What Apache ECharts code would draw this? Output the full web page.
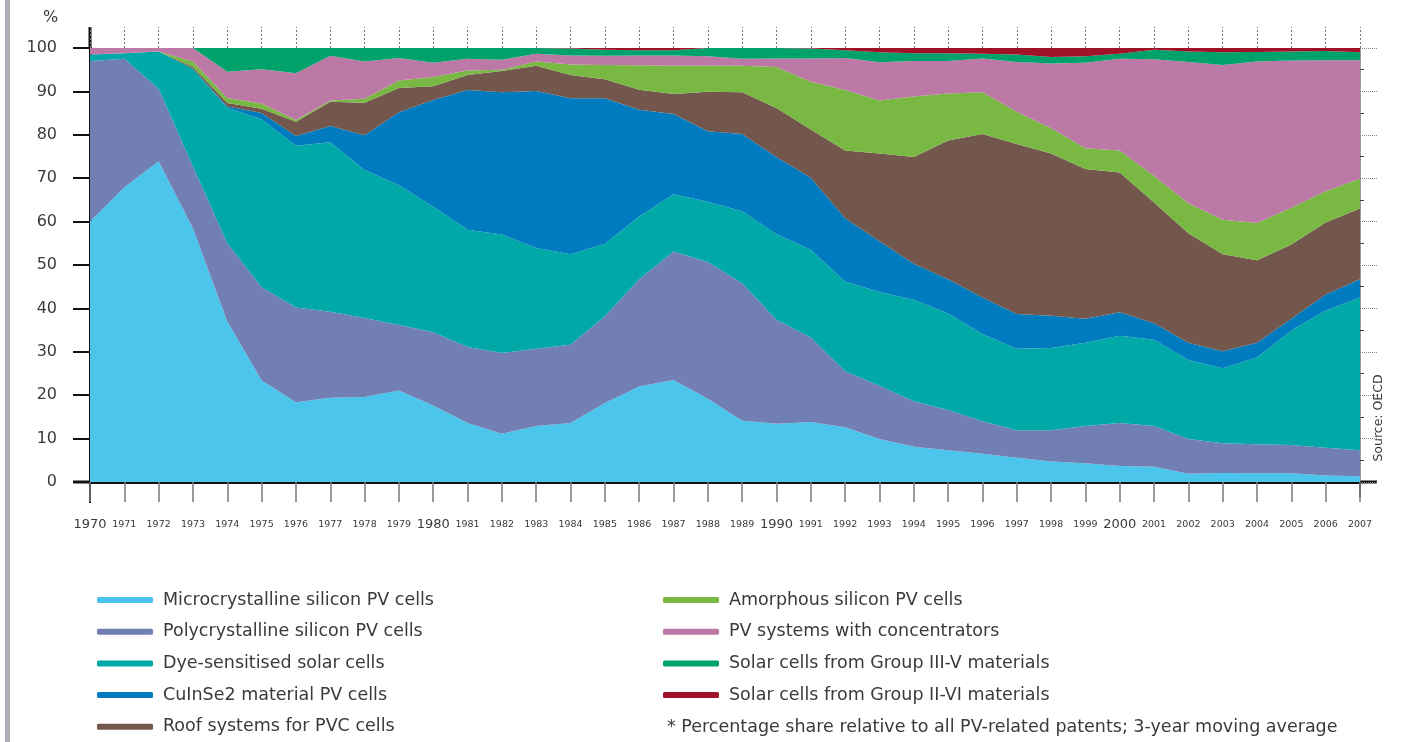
<!DOCTYPE html>
<html>
<head>
<meta charset="utf-8">
<script src="https://cdn.jsdelivr.net/npm/echarts@6/dist/echarts.min.js"></script>
<style>
html, body { margin: 0; padding: 0; background: #fff; }
#chart { width: 1405px; height: 742px; }
</style>
</head>
<body>
<div id="chart"></div>
<script>
// years 1970..2007
const years = ['1970','1971','1972','1973','1974','1975','1976','1977','1978','1979',
  '1980','1981','1982','1983','1984','1985','1986','1987','1988','1989',
  '1990','1991','1992','1993','1994','1995','1996','1997','1998','1999',
  '2000','2001','2002','2003','2004','2005','2006','2007']

// share in % (3-year moving average)
const microcrystalline = [60.0, 67.9, 73.9, 58.4, 37.0, 23.4, 18.4, 19.4, 19.6, 21.1,
  17.6, 13.6, 11.1, 12.9, 13.6, 18.2, 22.0, 23.5, 19.2, 14.1,
  13.4, 13.8, 12.6, 9.9, 8.1, 7.3, 6.5, 5.6, 4.7, 4.3,
  3.7, 3.5, 1.9, 2.1, 2.0, 2.0, 1.5, 1.3]
const polycrystalline = [37.0, 29.6, 16.7, 14.3, 18.0, 21.5, 21.8, 19.8, 18.2, 15.1,
  16.9, 17.5, 18.6, 17.8, 18.0, 20.0, 24.7, 29.6, 31.5, 31.7,
  24.0, 19.5, 12.9, 12.3, 10.5, 9.3, 7.5, 6.3, 7.2, 8.6,
  9.9, 9.4, 8.0, 6.8, 6.7, 6.5, 6.4, 6.0]
const dyeSensitised = [1.5, 1.3, 8.6, 22.5, 31.2, 38.7, 37.3, 39.1, 34.1, 32.2,
  28.9, 27.0, 27.3, 23.2, 20.9, 16.7, 14.5, 13.2, 13.9, 16.6,
  19.7, 20.2, 20.7, 21.6, 23.4, 22.2, 20.1, 18.8, 19.0, 19.2,
  20.1, 19.9, 18.2, 17.3, 20.0, 26.4, 31.6, 35.2]
const cuInSe2 = [0, 0, 0, 0, 0.3, 1.4, 2.2, 3.7, 8.0, 16.8,
  24.6, 32.2, 32.8, 36.2, 35.9, 33.5, 24.6, 18.5, 16.2, 17.8,
  17.8, 16.6, 14.6, 11.7, 8.3, 7.9, 8.4, 8.0, 7.4, 5.5,
  5.4, 3.8, 4.0, 3.9, 3.4, 2.7, 3.7, 4.2]
const roofSystems = [0, 0, 0, 0.4, 0.8, 1.0, 3.3, 5.6, 7.5, 5.6,
  3.2, 3.5, 4.9, 5.8, 5.4, 4.4, 4.6, 4.6, 9.1, 9.6,
  11.3, 11.1, 15.6, 20.2, 24.6, 32.0, 37.7, 39.2, 37.4, 34.5,
  32.2, 27.8, 25.2, 22.4, 19.0, 17.1, 16.6, 16.3]
const amorphous = [0, 0, 0, 1.3, 1.2, 1.2, 0.4, 0.3, 0.9, 1.7,
  2.1, 1.0, 0.3, 1.0, 2.4, 3.3, 5.6, 6.5, 6.0, 6.1,
  9.4, 11.0, 13.9, 12.2, 13.9, 10.8, 9.6, 7.4, 5.8, 4.8,
  5.1, 6.1, 6.9, 7.9, 8.6, 8.5, 7.2, 6.9]
const concentrators = [1.5, 1.2, 0.8, 3.1, 6.0, 7.9, 10.8, 10.3, 8.6, 5.2,
  3.3, 2.7, 2.3, 1.8, 2.1, 2.1, 2.3, 2.4, 2.2, 1.6,
  2.0, 5.4, 7.4, 8.8, 8.2, 7.5, 7.8, 11.5, 14.9, 19.7,
  21.1, 26.9, 32.6, 35.7, 37.2, 33.9, 30.2, 27.3]
const groupIIIV = [0, 0, 0, 0, 5.5, 4.9, 5.8, 1.8, 3.1, 2.3,
  3.4, 2.5, 2.7, 1.3, 1.6, 1.4, 1.2, 1.2, 1.9, 2.5,
  2.4, 2.3, 1.8, 2.3, 1.8, 1.8, 1.1, 1.7, 1.5, 1.5,
  1.2, 2.2, 2.4, 2.9, 2.2, 2.1, 2.1, 1.8]
const groupIIVI = [0, 0, 0, 0, 0, 0, 0, 0, 0, 0,
  0, 0, 0, 0, 0.1, 0.4, 0.5, 0.5, 0, 0,
  0, 0.1, 0.5, 1.0, 1.2, 1.2, 1.3, 1.5, 2.1, 1.9,
  1.3, 0.4, 0.8, 1.0, 0.9, 0.8, 0.7, 1.0]

const seriesNames = [
  'Microcrystalline silicon PV cells',
  'Polycrystalline silicon PV cells',
  'Dye-sensitised solar cells',
  'CuInSe2 material PV cells',
  'Roof systems for PVC cells',
  'Amorphous silicon PV cells',
  'PV systems with concentrators',
  'Solar cells from Group III-V materials',
  'Solar cells from Group II-VI materials'
]
const seriesData = [microcrystalline, polycrystalline, dyeSensitised, cuInSe2, roofSystems,
  amorphous, concentrators, groupIIIV, groupIIVI]
const seriesColors = ['#4cc5ec', '#727fb4', '#00a8a8', '#007bbf', '#74574c',
  '#78b843', '#bc79a5', '#00a26b', '#a01228']

const FONT = 'DejaVu Sans'
const TEXT = '#3a3a3a'

let chart = echarts.init(document.getElementById('chart'))

let legendBase = {
  orient: 'vertical',
  top: 590,
  height: 180,
  padding: 0,
  itemWidth: 56,
  itemHeight: 6,
  itemGap: 11.7,
  icon: 'roundRect',
  selectedMode: false,
  textStyle: { fontFamily: FONT, fontSize: 17.5, lineHeight: 20, color: TEXT, padding: [0, 0, 0, 5] }
}

let chartOpt = {
  animation: false,
  backgroundColor: '#fff',
  color: seriesColors,
  title: [
    { text: '%', left: 38, top: 5, textStyle: { fontFamily: FONT, fontSize: 16, fontWeight: 'normal', color: TEXT } },
    { text: '* Percentage share relative to all PV-related patents; 3-year moving average',
      left: 662, top: 713, textStyle: { fontFamily: FONT, fontSize: 17.5, fontWeight: 'normal', color: TEXT } }
  ],
  legend: [
    Object.assign({}, legendBase, { left: 97, data: seriesNames.slice(0, 5) }),
    Object.assign({}, legendBase, { left: 663, data: seriesNames.slice(5) })
  ],
  grid: { left: 90, right: 45, top: 48, bottom: 260 },
  xAxis: [
    {
      type: 'category',
      data: years,
      boundaryGap: false,
      axisLine: { lineStyle: { color: '#111', width: 3 } },
      axisTick: { length: 20, lineStyle: { color: '#7a7a7a', width: 1.5 } },
      axisLabel: {
        margin: 35,
        interval: 0,
        formatter: v => (Number(v) % 10 === 0 ? '{big|' + v + '}' : '{small|' + v + '}'),
        rich: {
          big: { fontFamily: FONT, fontSize: 13, color: TEXT, lineHeight: 16 },
          small: { fontFamily: FONT, fontSize: 9.5, color: TEXT, lineHeight: 16 }
        }
      }
    },
    {
      type: 'category',
      data: years,
      position: 'top',
      boundaryGap: false,
      axisLine: { show: false, onZero: false },
      axisTick: { show: true, interval: 0, length: 21, lineStyle: { color: '#777', width: 1, type: [2, 2] } },
      axisLabel: { show: false }
    }
  ],
  yAxis: [
    {
      type: 'value',
      min: 0,
      max: 100,
      interval: 10,
      axisLine: { show: true, lineStyle: { color: '#111', width: 3 } },
      axisTick: { show: true, length: 17, lineStyle: { color: '#111', width: 2 } },
      axisLabel: { margin: 33, fontFamily: FONT, fontSize: 16, color: TEXT },
      splitLine: { show: false }
    },
    {
      type: 'value',
      position: 'right',
      min: 0,
      max: 100,
      interval: 10,
      axisLine: { show: true, onZero: false, lineStyle: { color: '#888', width: 1, type: 'dotted' } },
      axisTick: { show: true, length: 18, lineStyle: { color: '#888', width: 1, type: 'dotted' } },
      minorTick: { show: true, splitNumber: 2, length: 4, lineStyle: { color: '#444', width: 1 } },
      axisLabel: { show: false },
      splitLine: { show: false }
    }
  ],
  series: seriesNames.map((name, i) => ({
    name: name,
    type: 'line',
    stack: 'share',
    data: seriesData[i],
    symbol: 'none',
    lineStyle: { width: 0 },
    areaStyle: { opacity: 1, color: seriesColors[i] },
    itemStyle: { color: seriesColors[i] },
    z: 2
  }))
}

chart.setOption(chartOpt)

// axis extensions like in the original print layout
let p0 = chart.convertToPixel({ gridIndex: 0 }, [0, 0])
let p100 = chart.convertToPixel({ gridIndex: 0 }, [0, 100])
let pEnd = chart.convertToPixel({ gridIndex: 0 }, [years.length - 1, 0])

chart.setOption({
  graphic: [
    { type: 'rect', shape: { x: 5, y: 0, width: 5, height: 742 }, style: { fill: '#aab0b5' } },
    { type: 'line', shape: { x1: p0[0], y1: p100[1] - 21, x2: p0[0], y2: p100[1] }, style: { stroke: '#111', lineWidth: 3 } },
    { type: 'line', shape: { x1: p0[0], y1: p0[1], x2: p0[0], y2: p0[1] + 21 }, style: { stroke: '#111', lineWidth: 2 } },
    { type: 'line', shape: { x1: p0[0] - 17, y1: p0[1], x2: p0[0], y2: p0[1] }, style: { stroke: '#111', lineWidth: 3 } },
    { type: 'line', shape: { x1: pEnd[0], y1: p0[1], x2: pEnd[0] + 17, y2: p0[1] }, style: { stroke: '#111', lineWidth: 3 } },
    { type: 'line', shape: { x1: pEnd[0], y1: p0[1], x2: pEnd[0], y2: p0[1] + 15 }, style: { stroke: '#222', lineWidth: 1.5 } },
    {
      type: 'text', x: pEnd[0] + 19, y: 418, rotation: Math.PI / 2,
      style: { text: 'Source: OECD', fontFamily: FONT, fontSize: 12.5, fill: TEXT, align: 'center', verticalAlign: 'middle' }
    }
  ]
})
</script>
</body>
</html>
